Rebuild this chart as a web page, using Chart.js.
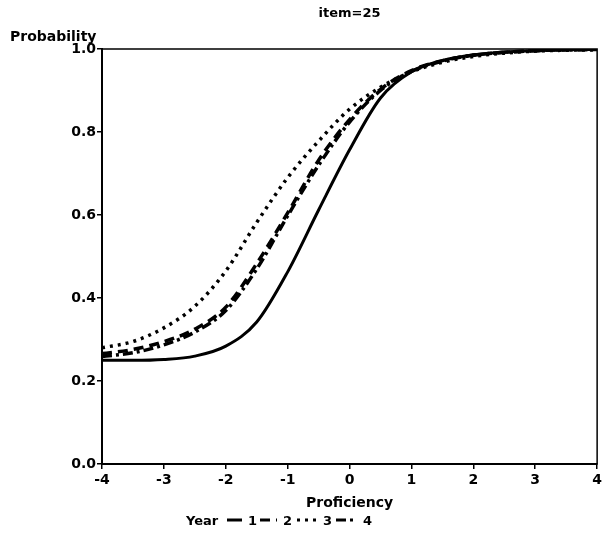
<!DOCTYPE html>
<html>
<head>
  <title>item=25</title>
  <script src="https://cdn.jsdelivr.net/npm/chart.js@4.4.0/dist/chart.umd.min.js"></script>
  <style>
    html, body { margin: 0; padding: 0; background: #fff; }
    #wrap { width: 605px; height: 536px; }
  </style>
</head>
<body>
  <div id="wrap"><canvas id="iccChart" width="605" height="536"></canvas></div>

  <script>
    // values
    const proficiency = [-4, -3.5, -3, -2.5, -2, -1.5, -1, -0.5, 0, 0.5, 1, 1.5, 2, 2.5, 3, 3.5, 4];
    const year1 = [0.250, 0.250, 0.252, 0.260, 0.284, 0.342, 0.463, 0.612, 0.757, 0.882, 0.945, 0.972, 0.986, 0.993, 0.996, 0.998, 0.999];
    const year2 = [0.266, 0.276, 0.295, 0.325, 0.378, 0.483, 0.605, 0.732, 0.830, 0.903, 0.948, 0.972, 0.985, 0.992, 0.996, 0.998, 0.999];
    const year3 = [0.280, 0.295, 0.328, 0.380, 0.465, 0.582, 0.690, 0.778, 0.855, 0.908, 0.945, 0.968, 0.982, 0.990, 0.995, 0.997, 0.998];
    const year4 = [0.259, 0.268, 0.287, 0.318, 0.370, 0.470, 0.598, 0.720, 0.824, 0.900, 0.946, 0.971, 0.985, 0.992, 0.996, 0.998, 0.999];
    const yearLabels = ['1', '2', '3', '4'];
    const xTicks = [-4, -3, -2, -1, 0, 1, 2, 3, 4];
    const yTicks = [0, 0.2, 0.4, 0.6, 0.8, 1.0];

    const FONT = '"DejaVu Sans", "Liberation Sans", Arial, sans-serif';
    const dashes = [[], [10, 6], [3, 5], [10, 4, 3, 4]];
    const widths = [3, 3.5, 3.5, 3.5];

    function toPoints(ys) {
      return proficiency.map((x, i) => ({ x: x, y: ys[i] }));
    }

    // frame, titles and the "Year" legend
    const decorations = {
      id: 'decorations',
      afterDraw(chart) {
        const ctx = chart.ctx;
        const a = chart.chartArea;
        ctx.save();
        ctx.strokeStyle = '#000';
        ctx.lineWidth = 1.5;
        ctx.strokeRect(a.left, a.top, a.right - a.left, a.bottom - a.top);

        ctx.fillStyle = '#000';
        ctx.textBaseline = 'alphabetic';
        ctx.font = 'bold 13px ' + FONT;
        ctx.textAlign = 'center';
        ctx.fillText('item=25', (a.left + a.right) / 2, 17);

        ctx.font = 'bold 14px ' + FONT;
        ctx.textAlign = 'left';
        ctx.fillText('Probability', 10, 41);

        ctx.textAlign = 'center';
        ctx.fillText('Proficiency', (a.left + a.right) / 2, 507);

        // legend row
        ctx.font = 'bold 13px ' + FONT;
        ctx.textAlign = 'left';
        const base = 525;
        ctx.fillText('Year', 186, base);
        const segs = [[227, 242], [260, 277], [297, 317], [336, 357]];
        const labX = [248, 283, 323, 363];
        ctx.lineWidth = 3;
        segs.forEach((s, i) => {
          ctx.setLineDash(dashes[i]);
          ctx.beginPath();
          ctx.moveTo(s[0], base - 5);
          ctx.lineTo(s[1], base - 5);
          ctx.stroke();
          ctx.setLineDash([]);
          ctx.fillText(yearLabels[i], labX[i], base);
        });
        ctx.restore();
      }
    };

    const series = [year1, year2, year3, year4];
    const ctx = document.getElementById('iccChart').getContext('2d');
    new Chart(ctx, {
      type: 'line',
      data: {
        datasets: series.map((ys, i) => ({
          label: yearLabels[i],
          data: toPoints(ys),
          borderColor: '#000',
          borderWidth: widths[i],
          borderDash: dashes[i],
          pointRadius: 0,
          fill: false,
          cubicInterpolationMode: 'monotone'
        }))
      },
      options: {
        responsive: false,
        animation: false,
        events: [],
        layout: { padding: { top: 49, right: 5, bottom: 42, left: 0 } },
        plugins: {
          legend: { display: false },
          title: { display: false },
          tooltip: { enabled: false }
        },
        scales: {
          x: {
            type: 'linear',
            min: -4,
            max: 4,
            afterBuildTicks: (s) => { s.ticks = xTicks.map(v => ({ value: v })); },
            afterFit: (s) => { s.height = 30; },
            grid: { drawOnChartArea: false, drawTicks: true, tickLength: 5, color: '#000', lineWidth: 1.5 },
            border: { display: true, color: '#000', width: 2 },
            ticks: {
              color: '#000',
              padding: 3,
              maxRotation: 0,
              font: { family: FONT, size: 14, weight: 'bold' },
              callback: (v) => String(v)
            }
          },
          y: {
            min: 0,
            max: 1,
            afterBuildTicks: (s) => { s.ticks = yTicks.map(v => ({ value: v })); },
            afterFit: (s) => { s.width = 102; },
            grid: { drawOnChartArea: false, drawTicks: true, tickLength: 5, color: '#000', lineWidth: 1.5 },
            border: { display: true, color: '#000', width: 2 },
            ticks: {
              color: '#000',
              padding: 1,
              font: { family: FONT, size: 14, weight: 'bold' },
              callback: (v) => Number(v).toFixed(1)
            }
          }
        }
      },
      plugins: [decorations]
    });
  </script>
</body>
</html>
